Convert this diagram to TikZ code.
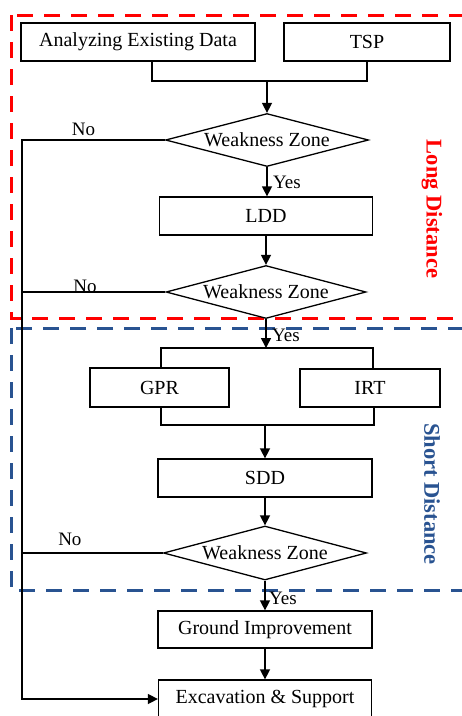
\documentclass[tikz,border=0pt]{standalone}
\usepackage{fontspec}
\setmainfont{Liberation Serif}
\usetikzlibrary{shapes.geometric,arrows.meta}
\definecolor{zoneblue}{RGB}{41,83,145}
\begin{document}
\begin{tikzpicture}[x=1pt,y=-1pt,
    font=\fontsize{20}{24}\selectfont,
    box/.style={draw,line width=1.3pt,rectangle,inner sep=0pt,minimum height=38pt},
    decision/.style={draw,line width=1.3pt,diamond,inner sep=0pt,shape aspect=3.8,minimum width=203pt,minimum height=53pt},
    arr/.style={line width=1.5pt,-{Triangle[length=10pt,width=10pt]}},
    link/.style={line width=1.5pt},
    lbl/.style={font=\fontsize{19}{22}\selectfont},
    zone/.style={line width=3pt,dash pattern=on 16pt off 11pt},
    zonelbl/.style={font=\fontsize{22.5}{26}\bfseries\selectfont,rotate=-90}]
  \useasboundingbox (0,0) rectangle (462,716);
  \draw[zone,red] (11,15) rectangle (475,318);
  \draw[zone,zoneblue] (11,328) rectangle (475,590);
  \node[zonelbl,text=red] (long) at (432,209) {Long Distance};
  \node[zonelbl,text=zoneblue] (short) at (432,494) {Short Distance};
  \node[box,minimum width=234pt] (ana) at (138,42) {Analyzing Existing Data};
  \node[box,minimum width=166pt] (tsp) at (367,42) {TSP};
  \node[decision] (d1) at (267,140) {Weakness Zone};
  \node[box,minimum width=213pt] (ldd) at (266,216) {LDD};
  \node[decision,minimum width=200pt] (d2) at (266,292) {Weakness Zone};
  \node[box,minimum width=139pt,minimum height=39pt] (gpr) at (159.5,387.5) {GPR};
  \node[box,minimum width=140pt] (irt) at (370,388) {IRT};
  \node[box,minimum width=214pt] (sdd) at (265,478) {SDD};
  \node[decision,minimum height=54pt] (d3) at (265,553) {Weakness Zone};
  \node[box,minimum width=214pt,minimum height=37pt] (gi) at (265,629.5) {Ground Improvement};
  \node[box,minimum width=213pt] (exc) at (265,699) {Excavation \& Support};
  \coordinate (m1) at (267,81);
  \coordinate (m1l) at (152,81);
  \coordinate (s1) at (266,348);
  \coordinate (s1l) at (161,348);
  \coordinate (s1r) at (373,348);
  \coordinate (m2) at (265,425);
  \coordinate (m2l) at (161,425);
  \coordinate (m2r) at (374,425);
  \coordinate (n1) at (22,140);
  \draw[link] (ana.south -| m1l) |- (m1) -| (tsp.south);
  \draw[arr] (m1) -- (d1.north);
  \draw[arr] (d1.south) -- (d1.south |- ldd.north) node[lbl,pos=0.52,right,xshift=2pt] (yes1) {Yes};
  \draw[arr] (ldd.south) -- (d2.north);
  \draw[arr] (d2.south) -- (s1) node[lbl,pos=0.57,right,xshift=2pt] (yes2) {Yes};
  \draw[link] (gpr.north -| s1l) -- (s1l) -- (s1r) -- (irt.north -| s1r);
  \draw[link] (gpr.south -| m2l) -- (m2l) -- (m2r) -- (irt.south -| m2r);
  \draw[arr] (m2) -- (sdd.north);
  \draw[arr] (sdd.south) -- (d3.north);
  \draw[arr] (d3.south) -- (gi.north) node[lbl,pos=0.6,right,xshift=0pt] (yes3) {Yes};
  \draw[arr] (gi.south) -- (exc.north);
  \draw[arr] (d1.west) -- (n1) node[lbl,pos=0.57,above] (no1) {No} -- (n1 |- exc.west) -- (exc.west);
  \draw[link] (d2.west) -- (d2.west -| n1) node[lbl,pos=0.56,anchor=base] (no2) {No};
  \draw[link] (d3.west) -- (d3.west -| n1) node[lbl,pos=0.66,anchor=base,yshift=8pt] (no3) {No};
\end{tikzpicture}
\end{document}
